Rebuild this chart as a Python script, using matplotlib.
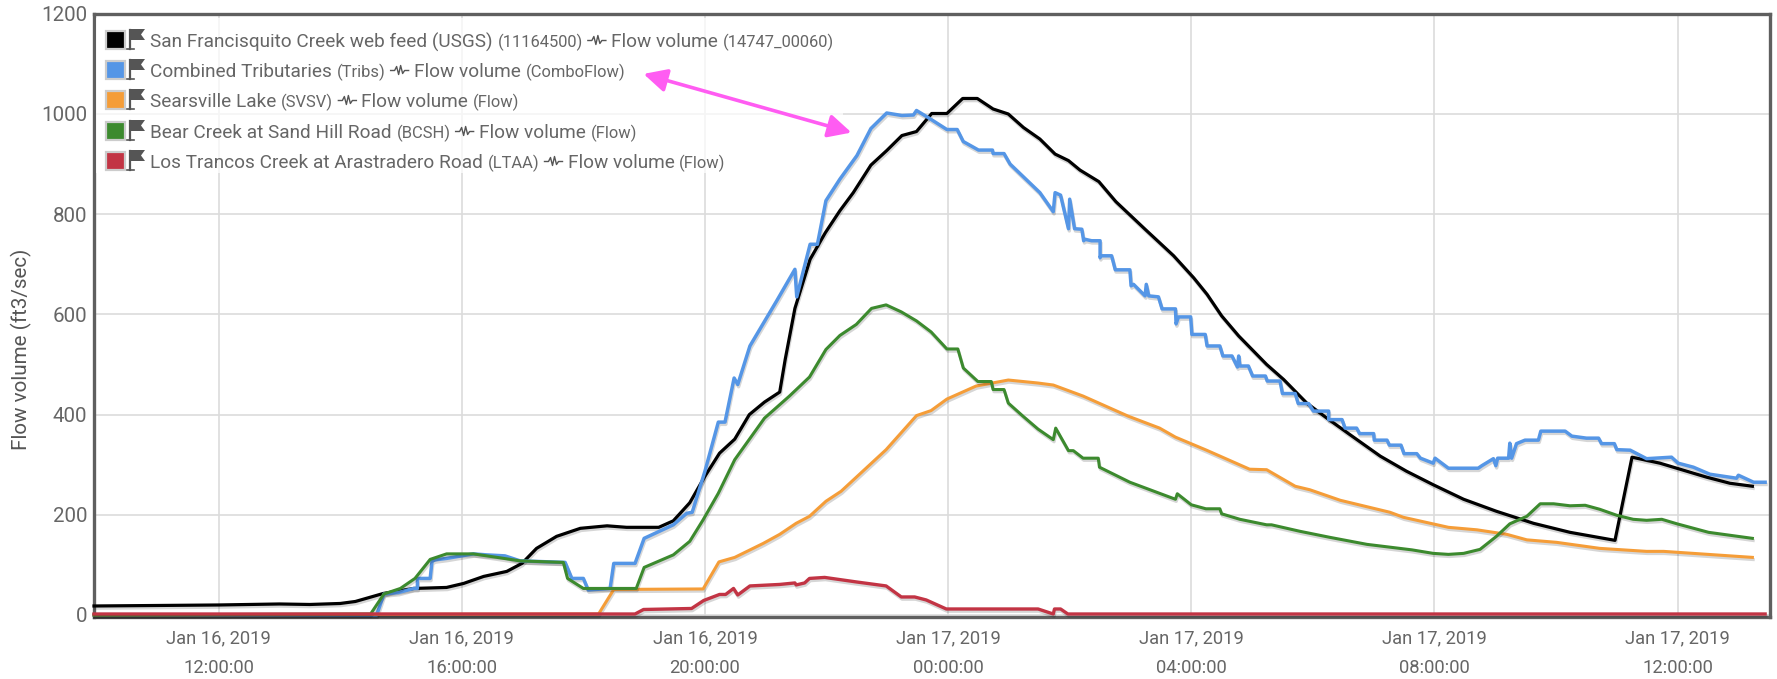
import numpy as np
import pandas as pd
import matplotlib
matplotlib.use('Agg')
import matplotlib.pyplot as plt
import matplotlib.dates as mdates
import matplotlib.patheffects as pe
from matplotlib.patches import Rectangle, Polygon
from matplotlib.lines import Line2D

plt.rcParams['font.family'] = ['Roboto', 'DejaVu Sans']

# (hours since Jan 16 2019 00:00, flow in ft3/sec)
usgs = [(9.95, 18), (11, 19), (12, 20), (13, 22), (13.5, 21), (14, 23), (14.25, 27), (14.71, 43), (15.21, 53),
        (15.75, 55), (16.03, 63), (16.36, 77), (16.74, 87), (16.99, 103), (17.23, 133), (17.56, 157), (17.95, 173),
        (18.39, 178), (18.71, 175), (19.24, 175), (19.48, 188), (19.75, 224), (20.0, 277), (20.24, 323), (20.49, 351),
        (20.73, 400), (20.98, 425), (21.23, 445), (21.32, 510), (21.48, 612), (21.73, 710), (21.98, 763), (22.22, 807),
        (22.44, 843), (22.73, 898), (22.99, 927), (23.24, 957), (23.48, 965), (23.73, 1001), (23.98, 1001),
        (24.24, 1031), (24.48, 1031), (24.74, 1010), (24.99, 1000), (25.24, 973), (25.51, 950), (25.76, 920),
        (25.98, 907), (26.17, 888), (26.48, 865), (26.76, 825), (27.24, 770), (27.71, 717), (28.04, 673), (28.26, 640),
        (28.5, 597), (28.78, 557), (29.24, 500), (29.52, 470), (29.9, 423), (30.23, 393), (30.61, 360), (31.11, 317),
        (31.54, 287), (31.98, 260), (32.48, 231), (33.02, 207), (33.63, 183), (34.23, 165), (34.97, 149), (35.25, 315),
        (35.71, 303), (36.48, 275), (36.86, 263), (37.23, 257)]

tribs = [(9.95, 0), (14.6, 0), (14.72, 42), (14.96, 45), (15.21, 53), (15.27, 53), (15.27, 73), (15.48, 73),
         (15.51, 107), (15.56, 110), (15.75, 113), (16.19, 122), (16.41, 120), (16.71, 118), (16.96, 108), (17.67, 105),
         (17.7, 105), (17.81, 73), (18.0, 73), (18.08, 50), (18.44, 53), (18.5, 103), (18.85, 103), (19.0, 153),
         (19.48, 180), (19.7, 203), (19.79, 205), (20.0, 287), (20.22, 385), (20.33, 385), (20.48, 473), (20.54, 460),
         (20.67, 510), (20.74, 537), (21.18, 627), (21.48, 690), (21.51, 635), (21.73, 740), (21.85, 740), (21.99, 827),
         (22.22, 870), (22.5, 917), (22.73, 971), (22.99, 1002), (23.24, 997), (23.43, 998), (23.48, 1007), (23.67, 993),
         (23.98, 969), (24.15, 969), (24.25, 945), (24.5, 928), (24.73, 928), (24.74, 921), (24.92, 921), (25.02, 900),
         (25.51, 843), (25.73, 805), (25.76, 843), (25.85, 838), (25.98, 771), (26.0, 830), (26.08, 771), (26.2, 770),
         (26.23, 747), (26.25, 750), (26.36, 747), (26.5, 747), (26.5, 713), (26.51, 717), (26.69, 717), (26.75, 689),
         (26.99, 689), (27.01, 657), (27.05, 660), (27.24, 637), (27.26, 660), (27.3, 637), (27.46, 635), (27.52, 611),
         (27.74, 611), (27.75, 581), (27.79, 595), (27.99, 595), (28.01, 560), (28.23, 560), (28.26, 537), (28.47, 537),
         (28.52, 517), (28.67, 517), (28.76, 495), (28.78, 517), (28.8, 497), (28.94, 497), (29.01, 477), (29.22, 477),
         (29.25, 467), (29.46, 467), (29.5, 442), (29.71, 442), (29.76, 422), (29.93, 422), (30.01, 407), (30.26, 407),
         (30.26, 390), (30.48, 390), (30.53, 373), (30.72, 373), (30.77, 362), (31.0, 362), (31.01, 349), (31.22, 349),
         (31.26, 339), (31.45, 339), (31.5, 322), (31.71, 322), (31.77, 313), (31.98, 303), (32.01, 313), (32.23, 293),
         (32.72, 293), (32.78, 298), (32.97, 312), (33.01, 298), (33.04, 313), (33.22, 313), (33.24, 343), (33.27, 313),
         (33.35, 342), (33.49, 349), (33.71, 349), (33.75, 367), (34.15, 367), (34.26, 357), (34.5, 353), (34.7, 353),
         (34.75, 342), (34.96, 342), (35.0, 330), (35.22, 329), (35.49, 312), (35.9, 315), (36.01, 303), (36.26, 295),
         (36.53, 281), (36.97, 273), (37.0, 279), (37.25, 265), (37.44, 265)]

svsv = [(9.95, 0), (18.25, 2), (18.5, 51), (19.97, 52), (20.23, 106), (20.49, 115), (20.96, 143), (21.23, 161),
        (21.5, 183), (21.72, 197), (21.99, 227), (22.24, 247), (22.98, 330), (23.48, 398), (23.72, 408), (23.98, 431),
        (24.46, 457), (24.99, 469), (25.48, 463), (25.73, 459), (26.22, 437), (26.96, 397), (27.48, 373), (27.74, 355),
        (28.25, 329), (28.96, 291), (29.24, 290), (29.71, 257), (29.95, 250), (30.45, 229), (31.27, 205), (31.49, 195),
        (32.23, 175), (32.7, 170), (33.19, 161), (33.52, 150), (34.01, 145), (34.72, 133), (35.49, 127), (35.77, 127),
        (37.23, 115)]

bcsh = [(9.95, 0), (14.5, 2), (14.72, 42), (14.99, 53), (15.23, 73), (15.48, 111), (15.75, 122), (16.19, 122),
        (16.58, 115), (16.96, 108), (17.67, 105), (17.74, 73), (18.0, 53), (18.87, 53), (19.0, 95), (19.48, 120),
        (19.75, 147), (19.97, 190), (20.22, 243), (20.49, 310), (20.98, 393), (21.39, 437), (21.72, 475), (21.99, 530),
        (22.22, 558), (22.49, 580), (22.74, 612), (22.98, 619), (23.23, 605), (23.48, 587), (23.72, 565), (23.98, 531),
        (24.16, 531), (24.25, 493), (24.49, 466), (24.71, 466), (24.74, 450), (24.92, 450), (24.99, 423), (25.23, 397),
        (25.48, 371), (25.73, 350), (25.77, 373), (25.98, 328), (26.06, 328), (26.22, 313), (26.47, 313), (26.49, 295),
        (26.99, 265), (27.74, 231), (27.77, 242), (28.0, 220), (28.24, 212), (28.47, 212), (28.5, 202), (28.8, 191),
        (29.24, 180), (29.32, 180), (29.79, 167), (30.28, 155), (30.89, 141), (31.63, 130), (31.98, 123), (32.23, 121),
        (32.48, 123), (32.75, 131), (33.02, 157), (33.24, 182), (33.52, 197), (33.74, 222), (33.96, 222), (34.23, 218),
        (34.48, 219), (34.72, 211), (35.0, 199), (35.27, 191), (35.49, 189), (35.74, 191), (35.99, 182), (36.51, 165),
        (37.23, 153)]

ltaa = [(9.95, 2), (18.85, 2), (18.99, 11), (19.78, 13), (19.98, 29), (20.24, 41), (20.34, 41), (20.47, 53), (20.54, 40),
        (20.74, 58), (21.23, 61), (21.48, 64), (21.5, 60), (21.64, 64), (21.72, 73), (21.97, 75), (22.49, 66),
        (22.98, 58), (23.23, 36), (23.45, 36), (23.64, 30), (23.97, 12), (25.48, 12), (25.73, 2), (25.75, 12),
        (25.85, 12), (25.97, 2), (37.44, 2)]

y_ticks = [0, 200, 400, 600, 800, 1000, 1200]
colors = ['#000000', '#5596e6', '#f59d38', '#3c8a2e', '#c23444']
widths = [2.3, 2.5, 2.2, 2.2, 2.4]

# legend rows: name, id, parameter, parameter id
legend_rows = [
    ('San Francisquito Creek web feed (USGS)', '(11164500)', 'Flow volume', '(14747_00060)'),
    ('Combined Tributaries', '(Tribs)', 'Flow volume', '(ComboFlow)'),
    ('Searsville Lake', '(SVSV)', 'Flow volume', '(Flow)'),
    ('Bear Creek at Sand Hill Road', '(BCSH)', 'Flow volume', '(Flow)'),
    ('Los Trancos Creek at Arastradero Road', '(LTAA)', 'Flow volume', '(Flow)'),
]

W, H = 1777, 679
fig = plt.figure(figsize=(W / 100, H / 100), dpi=100)
ax = fig.add_axes([94 / W, 1 - 616.5 / H, (1770 - 94) / W, (616.5 - 13.8) / H])


def to_dates(hours):
    return pd.Timestamp('2019-01-16') + pd.to_timedelta(hours, unit='h')


shadow = [pe.SimpleLineShadow(offset=(0.6, -1.6), shadow_color='#000000', alpha=0.16), pe.Normal()]
for i, s in enumerate([usgs, tribs, svsv, bcsh, ltaa]):
    arr = np.array(s, dtype=float)
    ax.plot(to_dates(arr[:, 0]), arr[:, 1], color=colors[i], lw=widths[i], solid_joinstyle='round',
            path_effects=shadow, zorder=3 + i * 0.1, clip_on=False)

ax.set_xlim(to_dates(9.95), to_dates(37.52))
ax.set_ylim(-3, 1200)
ax.set_yticks(y_ticks)
ax.xaxis.set_major_locator(mdates.HourLocator(byhour=[0, 4, 8, 12, 16, 20]))
ax.xaxis.set_major_formatter(mdates.DateFormatter('%b %d, %Y\n%H:%M:%S'))
ax.grid(color='#dcdcdc', lw=1.2)
ax.set_axisbelow(True)
ax.tick_params(axis='x', length=0, labelcolor='#666666', labelsize=13.2, pad=9)
ax.tick_params(axis='y', length=0, labelcolor='#666666', labelsize=14.8, pad=5)
for lab in ax.get_xticklabels():
    lab.set_linespacing(1.85)
for s in ax.spines.values():
    s.set_color('#5f5f5f')
    s.set_linewidth(2.4)
    s.set_zorder(2)

fig.text(21 / W, 1 - 349 / H, 'Flow volume (ft3/sec)', rotation=90, fontsize=14.9, color='#555555',
         ha='center', va='center')

# faint white box behind the legend
ax.add_patch(Rectangle((96 / W, 1 - 173 / H), (843 - 96) / W, 155 / H, transform=fig.transFigure,
                       fc='white', ec='none', alpha=0.72, zorder=2.5))

# double headed arrow between the legend entry and the curve
ax.annotate('', xy=(to_dates(18.99), 1080), xytext=(to_dates(22.41), 963),
            arrowprops=dict(arrowstyle='<|-|>,head_length=1.0,head_width=0.5', color='#ff5cf2', lw=2.6,
                            mutation_scale=14, shrinkA=0, shrinkB=0),
            zorder=6)


# legend is drawn by hand in figure pixels, y counted from the top
def px(x, y):
    return x / W, 1 - y / H


renderer = fig.canvas.get_renderer()
row_y = [40, 70, 100, 131, 161]
for (name, sid, par, pid), y, col in zip(legend_rows, row_y, colors):
    fig.add_artist(Rectangle(px(106, y + 9), 19 / W, 18 / H, transform=fig.transFigure, fc=col, ec='#cccccc',
                             lw=1.6, zorder=8))
    fig.add_artist(Line2D([130 / W, 130 / W], [px(0, y - 10)[1], px(0, y + 9)[1]], color='#555555', lw=1.6, zorder=8))
    fig.add_artist(Line2D([127 / W, 134 / W], [px(0, y + 9)[1], px(0, y + 9)[1]], color='#555555', lw=1.2, zorder=8))
    fig.add_artist(Polygon([px(131, y - 11), px(145, y - 11), px(141, y - 5.5), px(145, y), px(131, y)],
                           transform=fig.transFigure, fc='#555555', ec='none', zorder=8))
    x = 150.0
    for txt, size in [(name, 13.7), (sid, 11.9), (None, 0), (par, 13.7), (pid, 11.9)]:
        if txt is None:
            # small waveform glyph
            xs = np.array([0, 4, 6, 8, 10, 12, 14, 18]) + x
            ys = np.array([0, 0, -4, 4, -5, 3, 0, 0]) + y + 0.5
            fig.add_artist(Line2D(xs / W, 1 - ys / H, color='#555555', lw=1.0, zorder=8))
            x += 23
            continue
        t = fig.text(*px(x, y + 2), txt, fontsize=size, color='#666666', va='center', ha='left', zorder=8)
        x = t.get_window_extent(renderer).x1 + 5

fig.savefig('out.png', dpi=100)
